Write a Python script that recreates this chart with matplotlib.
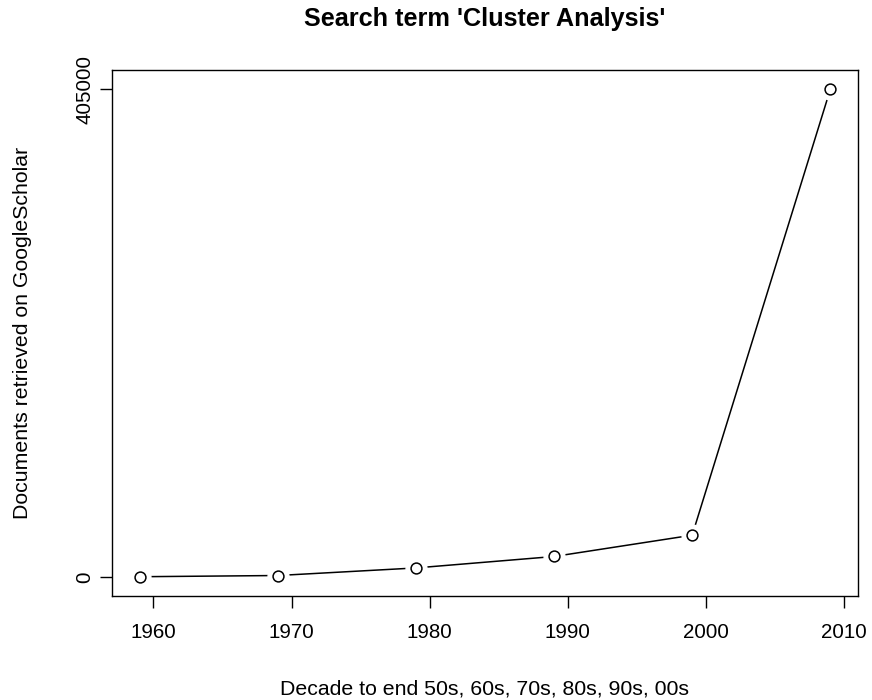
# Search term 'Cluster Analysis' - documents per decade
import matplotlib
matplotlib.use("Agg")
import matplotlib.pyplot as plt

plt.rcParams['font.family'] = ['Liberation Sans', 'DejaVu Sans']

decades = [1959, 1969, 1979, 1989, 1999, 2009]
docs = [200, 1200, 7500, 17000, 34700, 405000]
x_ticks = [1960, 1970, 1980, 1990, 2000, 2010]
y_ticks = [0, 405000]


def main():
    fig = plt.figure(figsize=(8.72, 7.0), dpi=100)
    ax = fig.add_axes([0.1284, 0.1479, 0.8555, 0.7524])

    # line first, then white halos to leave gaps like R's type="b"
    ax.plot(decades, docs, color='black', linewidth=1.1, zorder=1)
    ax.plot(decades, docs, linestyle='none', marker='o', markersize=15,
            markerfacecolor='white', markeredgecolor='white', zorder=2)
    ax.plot(decades, docs, linestyle='none', marker='o', markersize=7.8,
            markerfacecolor='white', markeredgecolor='black',
            markeredgewidth=1.1, zorder=3)

    # R style 4% padding
    xr = decades[-1] - decades[0]
    ax.set_xlim(decades[0] - 0.04 * xr, decades[-1] + 0.04 * xr)
    yr = max(docs) - 0
    ax.set_ylim(0 - 0.04 * yr, max(docs) + 0.04 * yr)

    ax.set_xticks(x_ticks)
    ax.set_yticks(y_ticks)
    ax.set_yticklabels([str(v) for v in y_ticks], rotation=90, va='center')
    ax.tick_params(axis='x', direction='out', length=8.9, width=1,
                   labelsize=14.8, pad=10.5)
    ax.tick_params(axis='y', direction='out', length=8.9, width=1,
                   labelsize=14.8, pad=4)
    for s in ax.spines.values():
        s.set_linewidth(1)

    ax.set_title("Search term 'Cluster Analysis'", fontsize=18.2,
                 fontweight='bold', y=1.0965, va='center', pad=0)
    ax.set_xlabel("Decade to end 50s, 60s, 70s, 80s, 90s, 00s",
                  fontsize=15.3, va='center')
    ax.xaxis.set_label_coords(0.5, -0.1756)
    ax.set_ylabel("Documents retrieved on GoogleScholar", fontsize=15.3,
                  va='center')
    ax.yaxis.set_label_coords(-0.1193, 0.5)

    fig.savefig("out.png", dpi=100)


if __name__ == "__main__":
    main()
